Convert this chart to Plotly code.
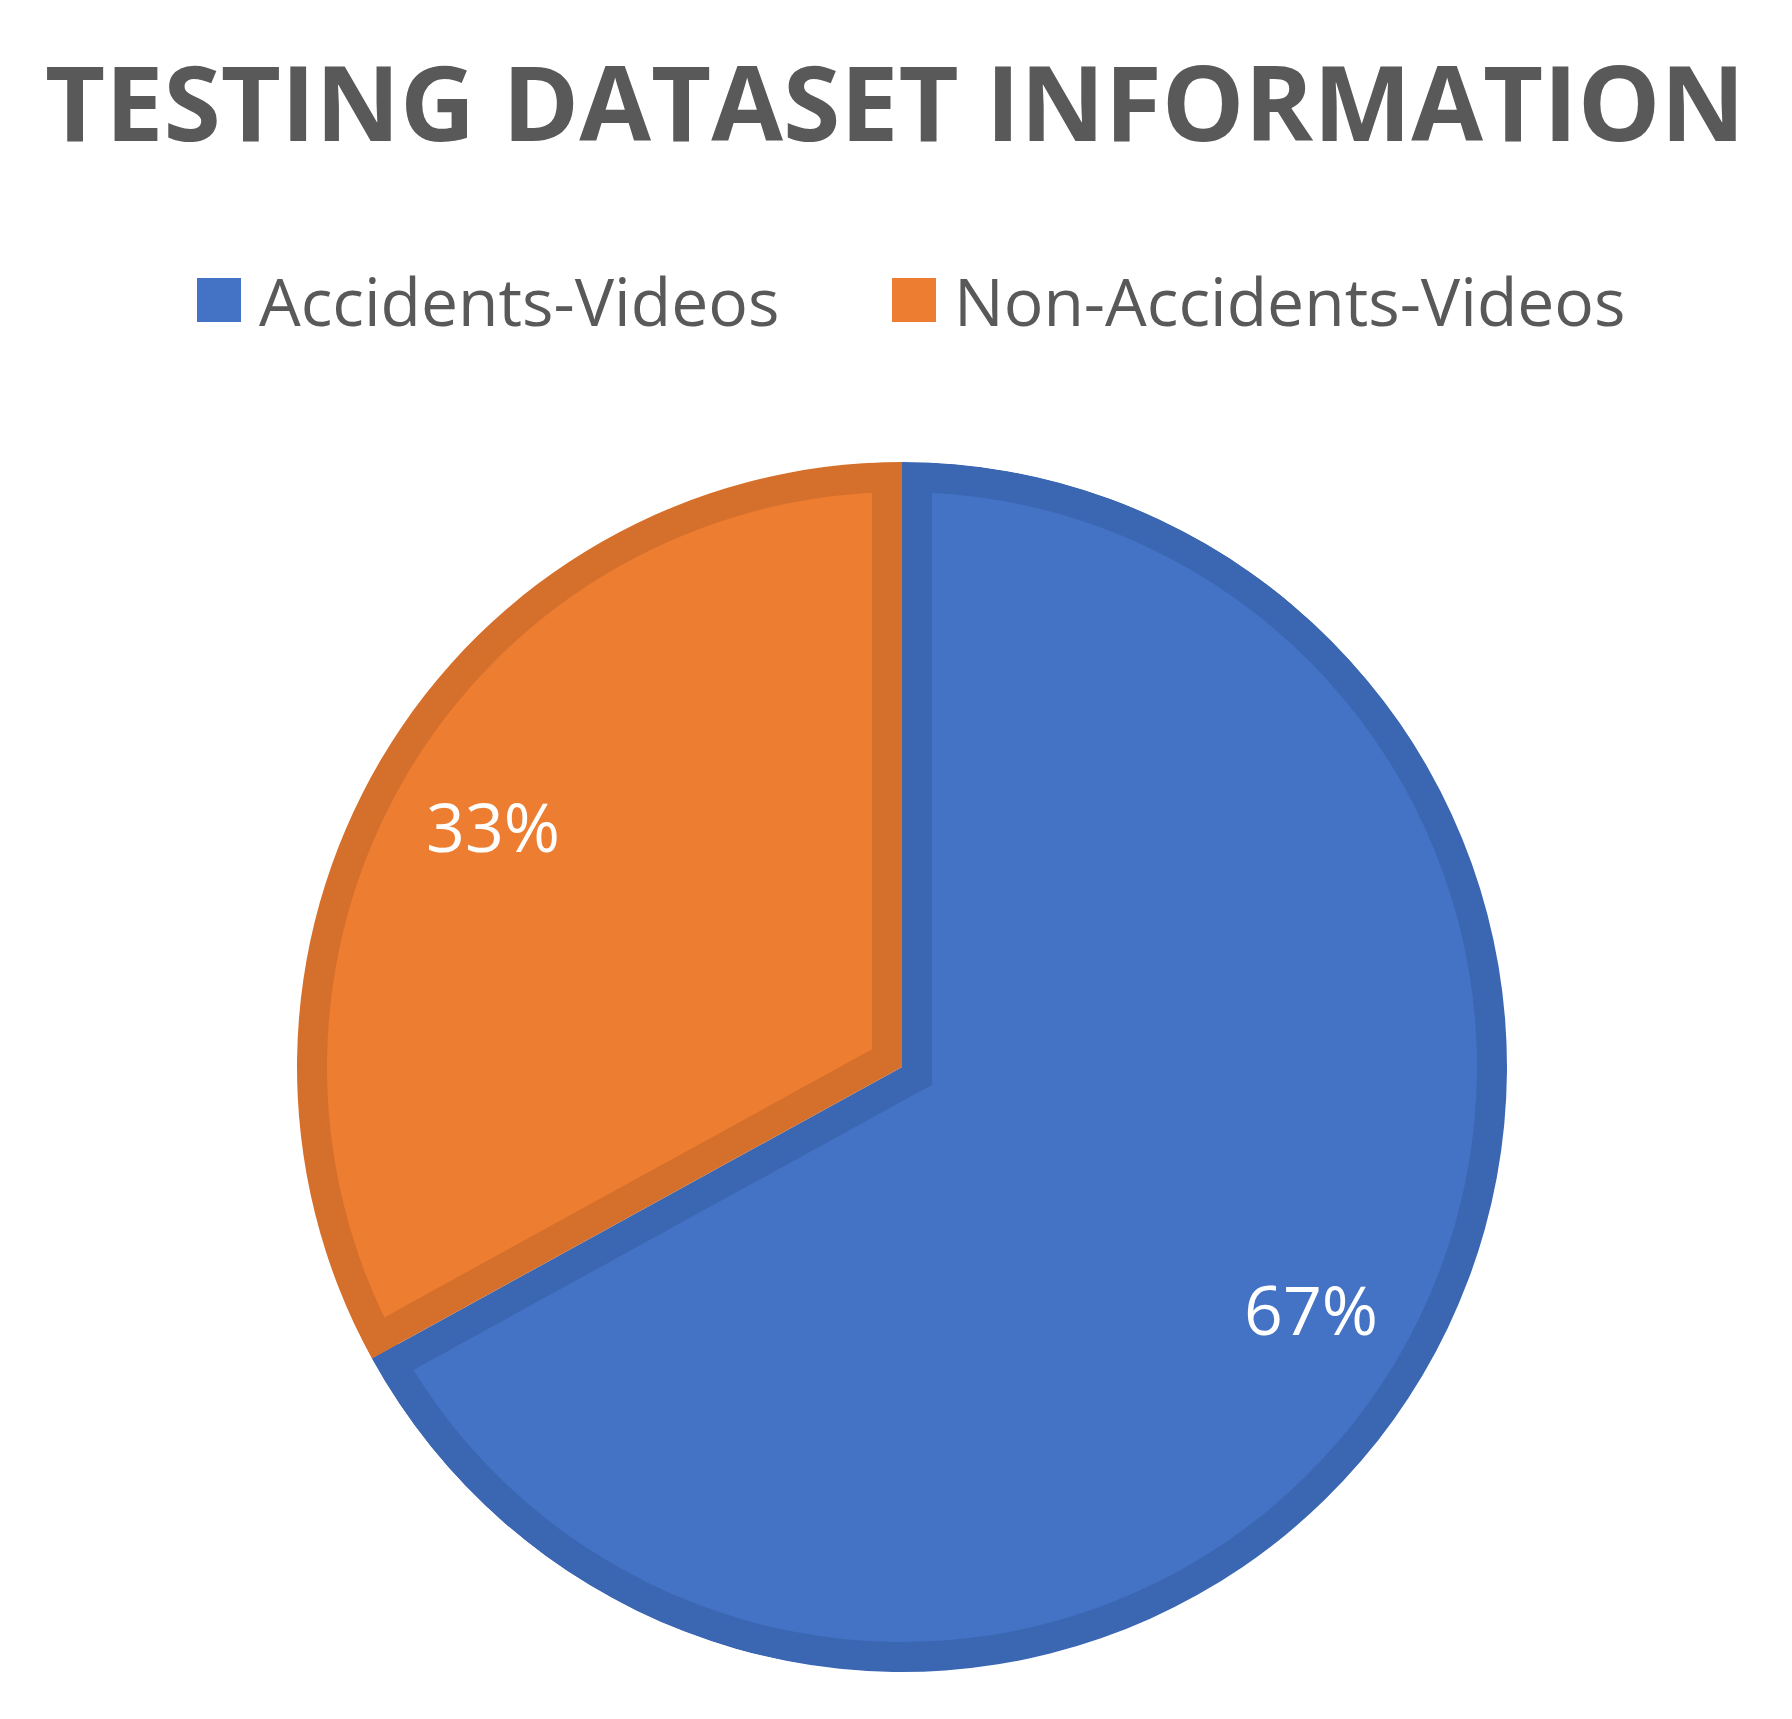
import math
import plotly.graph_objects as go

# data
categories = ["Accidents-Videos", "Non-Accidents-Videos"]
values = [67, 33]
title_text = "TESTING DATASET INFORMATION"

W, H = 1792, 1719
OFF = 8  # default page margin of the html body
FW, FH = W - 2 * OFF, H - 2 * OFF

fill_colors = ["#4472C4", "#ED7D31"]
edge_colors = ["#3B67B2", "#D5702C"]
clear = "rgba(0,0,0,0)"

# pie geometry in screen pixels
cx, cy, R = 902, 1067, 605
bw = 30  # inner rim width


def px(x):
    return (x - OFF) / FW


def py(y):
    return 1 - (y - OFF) / FH


def dom(r):
    return dict(x=[px(cx - r), px(cx + r)], y=[py(cy + r), py(cy - r)])


def pie(colors, r, hole=0, pull=None):
    return go.Pie(
        labels=categories, values=values, sort=False,
        direction="clockwise", rotation=0, domain=dom(r), hole=hole,
        marker=dict(colors=colors, line=dict(width=0)),
        pull=pull or 0, textinfo="none", hoverinfo="label+percent",
        showlegend=False,
    )


total = sum(values)
frac = [v / total for v in values]
half = [f * math.pi for f in frac]  # half-angle of each slice

# pulling each slice along its bisector by d insets both radial edges by bw
d = bw / math.sin(half[1])
# radius of the pulled slices so their arcs stay outside the rim everywhere
c = min(math.cos(a) for a in half)
r_p = (-2 * d * c + math.sqrt(4 * d * d * c * c - 4 * (d * d - (R - bw) ** 2))) / 2 + 2
pull_p = d / r_p
trim = 32

fig = go.Figure()
fig.add_trace(pie(edge_colors, R))                                   # dark base
fig.add_trace(pie(fill_colors, r_p + d, pull=[pull_p, pull_p]))      # inset fill
fig.add_trace(pie(edge_colors, R, hole=(R - bw) / R))                # outer rim
fig.add_trace(pie(["white", "white"], R + trim, hole=R / (R + trim)))  # trim overflow

# percentage labels along each slice's bisector
annotations = []
start = 0.0
for f in frac:
    mid = (start + f / 2) * 2 * math.pi
    start += f
    annotations.append(dict(
        x=px(cx + 0.785 * R * math.sin(mid)),
        y=py(cy - 0.785 * R * math.cos(mid)),
        xref="paper", yref="paper", xanchor="center", yanchor="middle",
        text=f"{round(f * 100)}%", showarrow=False,
        font=dict(family="Open Sans", size=68, color="white"),
    ))

# legend keys and labels
legend_x = [197, 892]
shapes = []
for i, name in enumerate(categories):
    x0 = legend_x[i]
    shapes.append(dict(type="rect", xref="paper", yref="paper",
                       x0=px(x0), x1=px(x0 + 44), y0=py(322), y1=py(278),
                       fillcolor=fill_colors[i], line=dict(width=0)))
    annotations.append(dict(
        x=px(x0 + 60), y=py(300), xref="paper", yref="paper",
        xanchor="left", yanchor="middle", text=name, showarrow=False,
        font=dict(family="Open Sans", size=66, color="#595959"),
    ))

annotations.append(dict(
    x=px(895), y=py(100), xref="paper", yref="paper",
    xanchor="center", yanchor="middle", text=f"<b>{title_text}</b>",
    showarrow=False,
    font=dict(family="Open Sans", size=104, color="#595959"),
))

fig.update_layout(
    width=FW, height=FH, autosize=False,
    margin=dict(l=0, r=0, t=0, b=0),
    paper_bgcolor="white", plot_bgcolor="white",
    annotations=annotations, shapes=shapes,
)

fig.write_html("out.html")
